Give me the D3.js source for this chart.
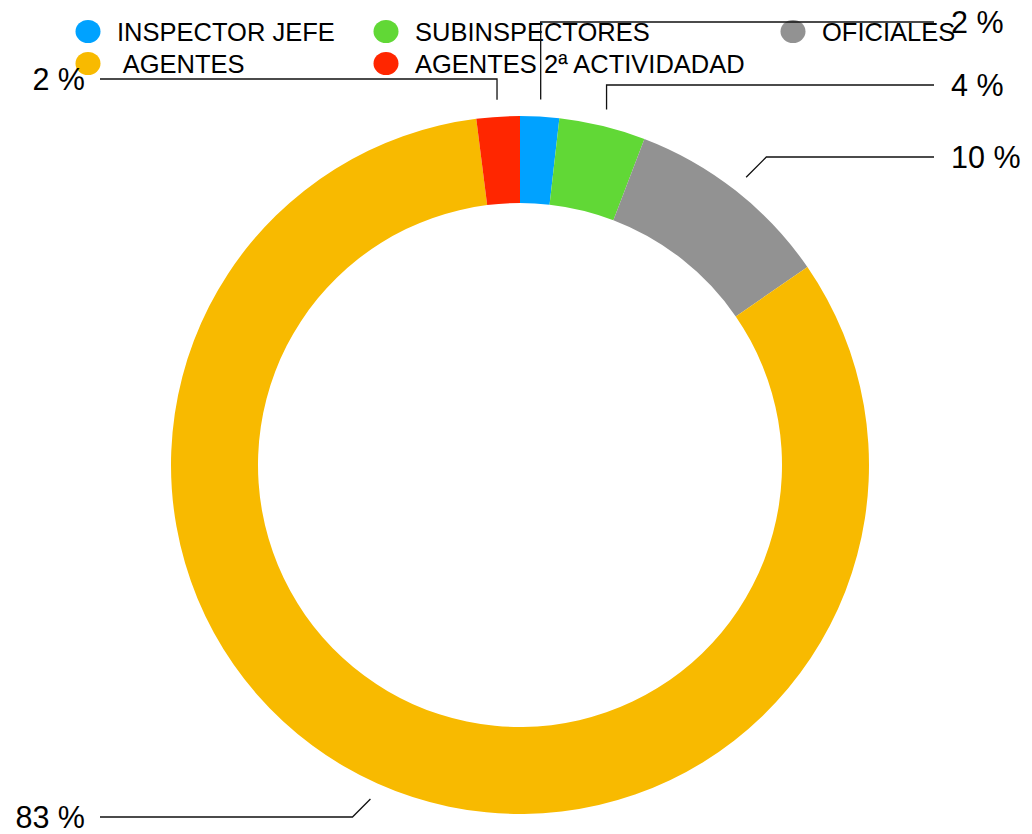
<!DOCTYPE html>
<html>
<head>
<meta charset="utf-8">
<script src="https://cdn.jsdelivr.net/npm/d3@7"></script>
<style>
  html, body { margin: 0; padding: 0; background: #fff; }
  svg { display: block; font-family: "Liberation Sans", Arial, Helvetica, sans-serif; }
</style>
</head>
<body>
<svg id="chart"></svg>
<script>
// categories and values (percent of staff)
const categories = ["INSPECTOR JEFE", "SUBINSPECTORES", "OFICIALES", " AGENTES", "AGENTES 2ª ACTIVIDADAD"];
const values = [1.8, 4.0, 9.6, 82.6, 2.0];
const colors = ["#00a2ff", "#61d836", "#929292", "#f8ba00", "#ff2600"];

const width = 1032, height = 834;
const cx = 520, cy = 465;
const outerR = 349, innerR = 262, leaderR = 366;

// where each callout label sits (vertical position)
const labelY = [22, 85, 157, 817, 79];

const svg = d3.select("#chart")
    .attr("width", width)
    .attr("height", height)
    .attr("viewBox", `0 0 ${width} ${height}`);

const total = d3.sum(values);
const data = categories.map((c, i) => ({ name: c, value: values[i], color: colors[i], i: i }));

const pie = d3.pie().sort(null).value(d => d.value);
const arcs = pie(data);

const arc = d3.arc().innerRadius(innerR).outerRadius(outerR);

const g = svg.append("g").attr("transform", `translate(${cx},${cy})`);

g.selectAll("path.slice")
    .data(arcs)
    .enter()
    .append("path")
    .attr("class", "slice")
    .attr("d", arc)
    .attr("fill", d => d.data.color);

// legend: two rows, three columns
const legendCols = [88, 386, 793];
const legendRows = [31.5, 63.5];
const legendPos = [[0, 0], [1, 0], [2, 0], [0, 1], [1, 1]];

const legend = svg.append("g");
data.forEach((d, i) => {
    const [c, r] = legendPos[i];
    const x = legendCols[c], y = legendRows[r];
    legend.append("ellipse")
        .attr("cx", x).attr("cy", y)
        .attr("rx", 12.5).attr("ry", 11.5)
        .attr("fill", d.color);
    legend.append("text")
        .attr("x", x + 29).attr("y", y + 9.5)
        .attr("xml:space", "preserve")
        .style("font-size", "25.5px")
        .style("fill", "#000")
        .text(d.name);
});

// callouts with leader lines
const leaders = svg.append("g");
arcs.forEach((a, i) => {
    const mid = (a.startAngle + a.endAngle) / 2;
    const sx = cx + leaderR * Math.sin(mid);
    const sy = cy - leaderR * Math.cos(mid);
    const right = Math.sin(mid) >= 0 && i !== 4;
    const ly = labelY[i];
    const ex = Math.abs(Math.sin(mid)) < 0.3 ? sx : sx + (Math.sin(mid) >= 0 ? 1 : -1) * Math.abs(ly - sy);
    const endX = right ? 934 : 100;

    leaders.append("path")
        .attr("d", d3.line()([[sx, sy], [ex, ly], [endX, ly]]))
        .attr("fill", "none")
        .attr("stroke", "#111")
        .attr("stroke-width", 1.3);

    const pct = Math.round(a.data.value / total * 100);
    leaders.append("text")
        .attr("x", right ? 951 : 85)
        .attr("y", ly + 10.5)
        .attr("text-anchor", right ? "start" : "end")
        .style("font-size", "30.5px")
        .style("fill", "#000")
        .text(pct + " %");
});
</script>
</body>
</html>
